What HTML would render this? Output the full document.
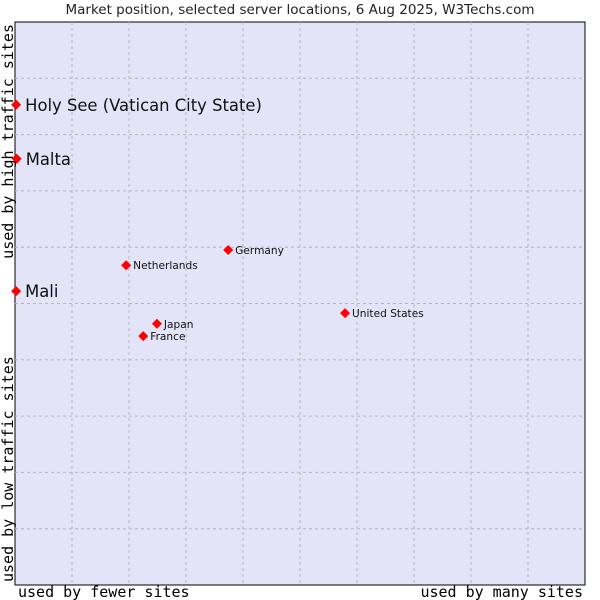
<!DOCTYPE html>
<html><head><meta charset="utf-8"><style>
body{margin:0;background:#fff;width:600px;height:600px;overflow:hidden}
svg{display:block;font-family:"DejaVu Sans","Liberation Sans",sans-serif}
</style></head><body>
<svg id="c" width="600" height="600">
<text x="300" y="14" text-anchor="middle" font-size="13.5" fill="#222">Market position, selected server locations, 6 Aug 2025, W3Techs.com</text>
<rect x="15" y="22" width="570" height="563" fill="#e3e4f8" stroke="#000" stroke-width="1"/>
<g id="grid"></g>
<g id="pts"></g>
<text x="18" y="597" font-family="DejaVu Sans Mono,Liberation Mono,monospace" font-size="15" fill="#000">used by fewer sites</text>
<text x="583" y="597" text-anchor="end" font-family="DejaVu Sans Mono,Liberation Mono,monospace" font-size="15" fill="#000">used by many sites</text>
<text transform="translate(13,582) rotate(-90)" font-family="DejaVu Sans Mono,Liberation Mono,monospace" font-size="15" fill="#000">used by low traffic sites</text>
<text transform="translate(13,24) rotate(-90)" text-anchor="end" font-family="DejaVu Sans Mono,Liberation Mono,monospace" font-size="15" fill="#000">used by high traffic sites</text>
</svg>
<script>
const names=["Holy See (Vatican City State)","Malta","Mali","Netherlands","Germany","United States","Japan","France"];
const xVals=[0.2,0.3,0.2,19.5,37.4,57.9,24.9,22.5];
const yVals=[85.3,75.7,52.2,56.8,59.5,48.3,46.4,44.2];
const bigLabel=[true,true,true,false,false,false,false,false];
const L=15,T=22,W=570,H=563;
const sx=v=>L+v/100*W, sy=v=>T+H-v/100*H;
const NS="http://www.w3.org/2000/svg";
const g=document.getElementById('grid'),p=document.getElementById('pts');
for(let i=1;i<10;i++){
 let l=document.createElementNS(NS,'line');
 l.setAttribute('x1',sx(i*10));l.setAttribute('x2',sx(i*10));l.setAttribute('y1',T);l.setAttribute('y2',T+H);
 l.setAttribute('stroke','#b8b8b8');l.setAttribute('stroke-dasharray','3,3');
 
 
 g.appendChild(l);
 let h=document.createElementNS(NS,'line');
 h.setAttribute('y1',sy(i*10));h.setAttribute('y2',sy(i*10));h.setAttribute('x1',L);h.setAttribute('x2',L+W);
 h.setAttribute('stroke','#b8b8b8');h.setAttribute('stroke-dasharray','3,3');
 
 
 g.appendChild(h);
}
names.forEach((n,i)=>{
 const x=sx(xVals[i]),y=sy(yVals[i]);
 let d=document.createElementNS(NS,'polygon');
 d.setAttribute('points',`${x},${y-5} ${x+5},${y} ${x},${y+5} ${x-5},${y}`);
 d.setAttribute('fill','#ff0000');
 
 
 p.appendChild(d);
 let t=document.createElementNS(NS,'text');
 t.setAttribute('x',x+(bigLabel[i]?9:7));t.setAttribute('y',y+(bigLabel[i]?6:4));
 t.setAttribute('font-size',bigLabel[i]?16.4:10.6);t.setAttribute('fill','#111');
 t.textContent=n;
 
 
 p.appendChild(t);
});
</script>
</body></html>
